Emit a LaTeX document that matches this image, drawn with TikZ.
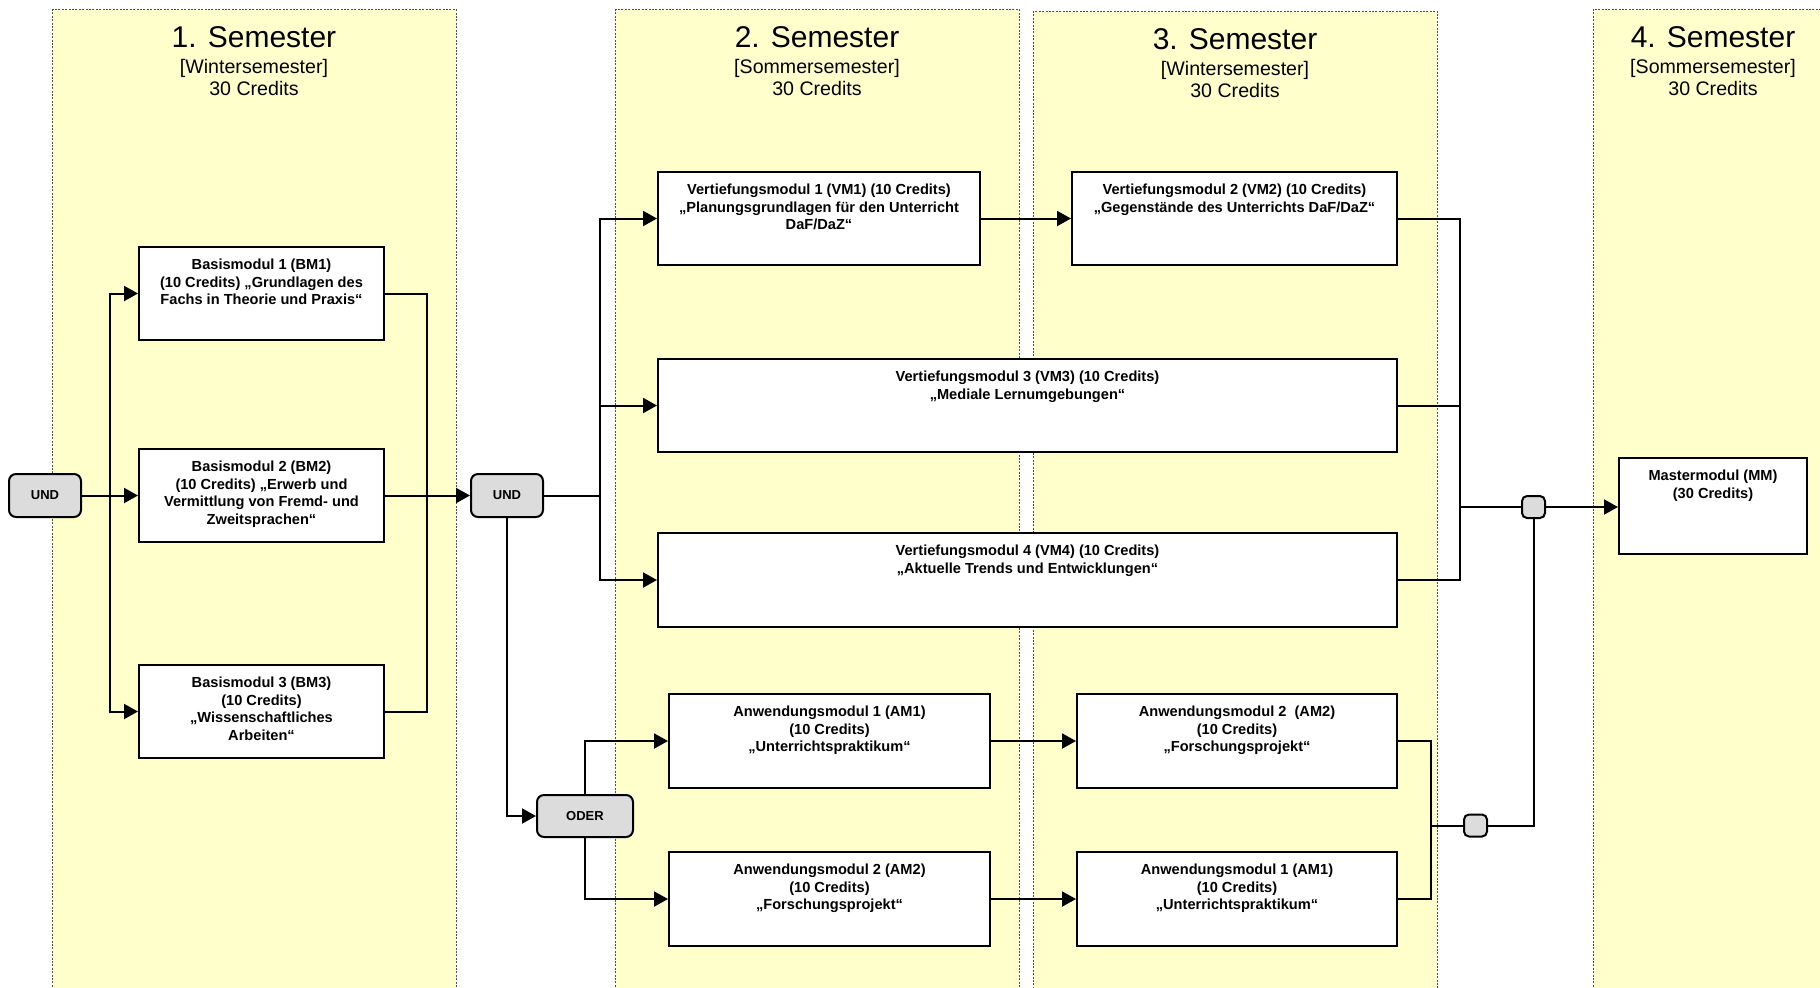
\documentclass[tikz,border=0pt]{standalone}
\usepackage{fontspec}
\setmainfont{Liberation Sans}
\usetikzlibrary{arrows.meta}
\definecolor{bandfill}{RGB}{255,255,204}
\definecolor{gatefill}{RGB}{220,220,220}
\definecolor{bandline}{RGB}{80,80,80}
\newcommand\modnode[6]{%
  \node[modbox, minimum width={(#4-#2)*0.5pt}, minimum height={(#5-#3)*0.5pt}] (#1) at ({(#2+#4)/2},{(#3+#5)/2}) {};
  \node[modtext] (#1t) at ({(#2+#4)/2},{#3+12}) {#6};}
\newcommand\semtitle[5]{%
  \node[ttl] (#1a) at (#2,#3+47) {#4};
  \node[sub] (#1b) at (#2,#3+73) {[#5]};
  \node[sub] (#1c) at (#2,#3+95) {30 Credits};}
\begin{document}
\begin{tikzpicture}[x=0.5pt,y=-0.5pt,
 band/.style={fill=bandfill, draw=bandline, dash pattern=on 1pt off 0.7pt, line width=0.5pt},
 modbox/.style={draw=black, fill=white, line width=1pt, rectangle, inner sep=0},
 modtext/.style={anchor=north, align=center, inner sep=0, font=\bfseries\fontsize{7.3}{8.75}\selectfont},
 gate/.style={draw=black, fill=gatefill, rounded corners=3.5pt, line width=1pt, inner sep=0, font=\bfseries\fontsize{6.5}{8}\selectfont},
 conn/.style={line width=1pt},
 arr/.style={conn, -{Triangle[length=7pt,width=7.5pt]}},
 ttl/.style={anchor=base, font=\fontsize{15}{18}\selectfont, inner sep=0},
 sub/.style={anchor=base, font=\fontsize{9.8}{11}\selectfont, inner sep=0}]
\useasboundingbox (0,0) rectangle (1820,987);
\clip (0,0) rectangle (1820,987);
% semester bands
\path[band] (52,9) rectangle (456,1010);
\path[band] (615,9) rectangle (1019,1010);
\path[band] (1033,11) rectangle (1437,1010);
\path[band] (1593,9) rectangle (1840,1010);
\semtitle{s1}{254}{0}{1. Semester}{Wintersemester}
\semtitle{s2}{817}{0}{2. Semester}{Sommersemester}
\semtitle{s3}{1235}{2}{3. Semester}{Wintersemester}
\semtitle{s4}{1713}{0}{4. Semester}{Sommersemester}
% modules
\modnode{bm1}{139}{247}{384}{340}{Basismodul 1 (BM1)\\(10 Credits) „Grundlagen des\\Fachs in Theorie und Praxis“}
\modnode{bm2}{139}{449}{384}{542}{Basismodul 2 (BM2)\\(10 Credits) „Erwerb und\\Vermittlung von Fremd- und\\Zweitsprachen“}
\modnode{bm3}{139}{665}{384}{758}{Basismodul 3 (BM3)\\(10 Credits)\\„Wissenschaftliches\\Arbeiten“}
\modnode{vm1}{658}{172}{980}{265}{Vertiefungsmodul 1 (VM1) (10 Credits)\\„Planungsgrundlagen für den Unterricht\\DaF/DaZ“}
\modnode{vm2}{1072}{172}{1397}{265}{Vertiefungsmodul 2 (VM2) (10 Credits)\\„Gegenstände des Unterrichts DaF/DaZ“}
\modnode{vm3}{658}{359}{1397}{452}{Vertiefungsmodul 3 (VM3) (10 Credits)\\„Mediale Lernumgebungen“}
\modnode{vm4}{658}{533}{1397}{627}{Vertiefungsmodul 4 (VM4) (10 Credits)\\„Aktuelle Trends und Entwicklungen“}
\modnode{am1}{669}{694}{990}{788}{Anwendungsmodul 1 (AM1)\\(10 Credits)\\„Unterrichtspraktikum“}
\modnode{am2}{669}{852}{990}{946}{Anwendungsmodul 2 (AM2)\\(10 Credits)\\„Forschungsprojekt“}
\modnode{amb}{1077}{694}{1397}{788}{Anwendungsmodul 2~~(AM2)\\(10 Credits)\\„Forschungsprojekt“}
\modnode{ama}{1077}{852}{1397}{946}{Anwendungsmodul 1 (AM1)\\(10 Credits)\\„Unterrichtspraktikum“}
\modnode{mm}{1619}{458}{1807}{554}{Mastermodul (MM)\\(30 Credits)}
% gates
\node[gate, minimum width=36pt, minimum height=21.5pt] (und1) at (45,495.5) {UND};
\node[gate, minimum width=36pt, minimum height=21.5pt] (und2) at (507,495.5) {UND};
\node[gate, minimum width=48pt, minimum height=21pt] (oder) at (585,816) {ODER};
\node[gate, rounded corners=2.5pt, minimum width=11.5pt, minimum height=11pt] (sq1) at (1533.5,507) {};
\node[gate, rounded corners=2.5pt, minimum width=11.5pt, minimum height=11pt] (sq2) at (1475.5,825.5) {};
% connectors
\coordinate (jA) at (110,495.5);
\draw[conn] (und1.east) -- (jA);
\draw[arr] (jA) -- (bm2.west);
\draw[arr] (jA) |- (bm1.west);
\draw[arr] (jA) |- (bm3.west);
\coordinate (jB) at (427,495.5);
\draw[conn] (bm1.east) -| (jB);
\draw[conn] (bm3.east) -| (jB);
\draw[arr] (bm2.east) -- (und2.west);
\coordinate (jC) at (600,495.5);
\draw[conn] (und2.east) -- (jC);
\draw[arr] (jC) |- (vm1.west);
\draw[arr] (jC) |- (vm3.west);
\draw[arr] (jC) |- (vm4.west);
\draw[arr] (und2.south) |- (oder.west);
\draw[arr] (oder.north) |- (am1.west);
\draw[arr] (oder.south) |- (am2.west);
\draw[arr] (vm1.east) -- (vm2.west);
\draw[arr] (am1.east) -- (amb.west);
\draw[arr] (am2.east) -- (ama.west);
\coordinate (jD) at (1460,507);
\draw[conn] (vm2.east) -| (jD);
\draw[conn] (vm3.east) -| (jD);
\draw[conn] (vm4.east) -| (jD);
\draw[conn] (jD) -- (sq1.west);
\draw[arr] (sq1.east) -- (sq1.east -| mm.west);
\draw[conn] (sq1.south) |- (sq2.east);
\coordinate (jE) at (1431,825.5);
\draw[conn] (amb.east) -| (jE);
\draw[conn] (ama.east) -| (jE);
\draw[conn] (jE) -- (sq2.west);
\end{tikzpicture}
\end{document}
